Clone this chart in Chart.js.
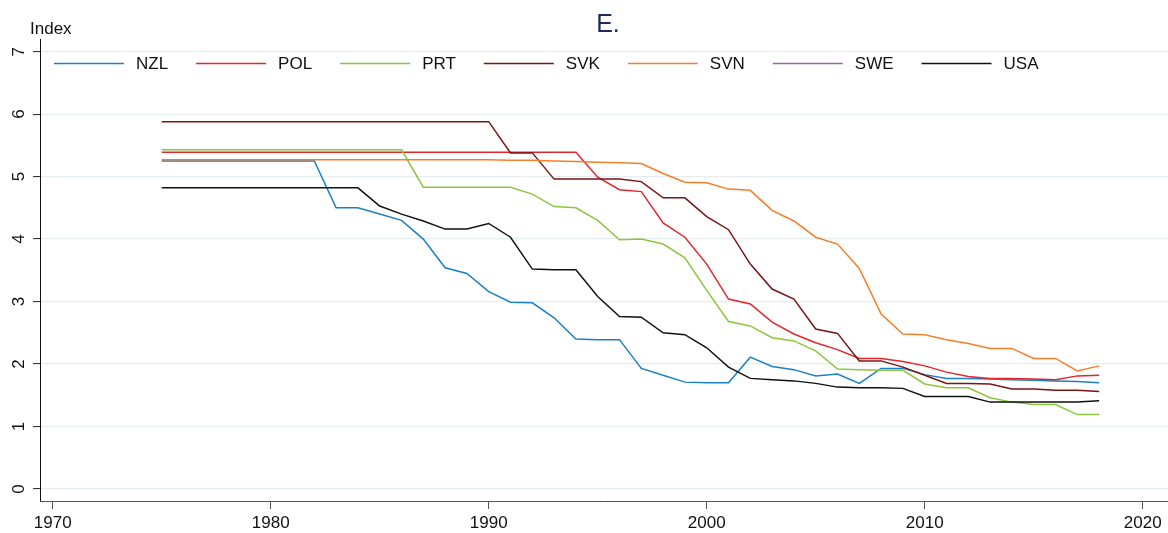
<!DOCTYPE html>
<html>
<head>
<meta charset="utf-8">
<script src="https://cdn.jsdelivr.net/npm/chart.js@4.4.1/dist/chart.umd.min.js"></script>
<style>
  html, body { margin: 0; padding: 0; background: #ffffff; }
  #wrap { width: 1168px; height: 533px; position: relative; }
</style>
</head>
<body>
<div id="wrap"><canvas id="chart" width="1168" height="533"></canvas></div>
<script>
// Years covered by every series
const years = [1975, 1976, 1977, 1978, 1979, 1980, 1981, 1982, 1983, 1984,
               1985, 1986, 1987, 1988, 1989, 1990, 1991, 1992, 1993, 1994,
               1995, 1996, 1997, 1998, 1999, 2000, 2001, 2002, 2003, 2004,
               2005, 2006, 2007, 2008, 2009, 2010, 2011, 2012, 2013, 2014,
               2015, 2016, 2017, 2018];

const countries = ['NZL', 'POL', 'PRT', 'SVK', 'SVN', 'SWE', 'USA'];

const nzl = [5.25, 5.25, 5.25, 5.25, 5.25, 5.25, 5.25, 5.25, 4.50, 4.50,
             4.40, 4.30, 4.00, 3.54, 3.45, 3.16, 2.99, 2.98, 2.74, 2.40,
             2.39, 2.39, 1.93, 1.82, 1.71, 1.70, 1.70, 2.11, 1.96, 1.91,
             1.81, 1.84, 1.69, 1.93, 1.93, 1.83, 1.77, 1.77, 1.76, 1.75,
             1.74, 1.73, 1.72, 1.70];

const pol = [5.39, 5.39, 5.39, 5.39, 5.39, 5.39, 5.39, 5.39, 5.39, 5.39,
             5.39, 5.39, 5.39, 5.39, 5.39, 5.39, 5.39, 5.39, 5.39, 5.39,
             4.99, 4.79, 4.76, 4.26, 4.03, 3.60, 3.04, 2.96, 2.67, 2.48,
             2.34, 2.23, 2.09, 2.09, 2.04, 1.97, 1.87, 1.80, 1.77, 1.77,
             1.76, 1.75, 1.81, 1.82];

const prt = [5.43, 5.43, 5.43, 5.43, 5.43, 5.43, 5.43, 5.43, 5.43, 5.43,
             5.43, 5.43, 4.83, 4.83, 4.83, 4.83, 4.83, 4.72, 4.52, 4.50,
             4.30, 3.99, 4.00, 3.92, 3.70, 3.18, 2.68, 2.61, 2.42, 2.37,
             2.21, 1.92, 1.91, 1.90, 1.90, 1.68, 1.62, 1.62, 1.46, 1.39,
             1.35, 1.35, 1.19, 1.19];

const svk = [5.88, 5.88, 5.88, 5.88, 5.88, 5.88, 5.88, 5.88, 5.88, 5.88,
             5.88, 5.88, 5.88, 5.88, 5.88, 5.88, 5.38, 5.38, 4.96, 4.96,
             4.96, 4.96, 4.92, 4.66, 4.66, 4.36, 4.15, 3.60, 3.20, 3.04,
             2.56, 2.49, 2.05, 2.05, 1.95, 1.82, 1.69, 1.69, 1.68, 1.60,
             1.60, 1.58, 1.58, 1.56];

const svn = [5.27, 5.27, 5.27, 5.27, 5.27, 5.27, 5.27, 5.27, 5.27, 5.27,
             5.27, 5.27, 5.27, 5.27, 5.27, 5.27, 5.26, 5.26, 5.25, 5.24,
             5.23, 5.22, 5.21, 5.05, 4.91, 4.90, 4.80, 4.78, 4.46, 4.29,
             4.03, 3.92, 3.53, 2.80, 2.48, 2.47, 2.39, 2.33, 2.25, 2.25,
             2.09, 2.09, 1.89, 1.97];

const swe = [];

const usa = [4.82, 4.82, 4.82, 4.82, 4.82, 4.82, 4.82, 4.82, 4.82, 4.82,
             4.53, 4.40, 4.29, 4.16, 4.16, 4.25, 4.03, 3.52, 3.51, 3.51,
             3.08, 2.76, 2.75, 2.50, 2.47, 2.26, 1.95, 1.77, 1.75, 1.73,
             1.69, 1.63, 1.62, 1.62, 1.61, 1.48, 1.48, 1.48, 1.39, 1.39,
             1.39, 1.39, 1.39, 1.41];

const xTicks = [1970, 1980, 1990, 2000, 2010, 2020];
const yTicks = [0, 1, 2, 3, 4, 5, 6, 7];

const seriesValues = [nzl, pol, prt, svk, svn, swe, usa];
const seriesColors = ['#1a80c8', '#e2262b', '#8cc63f', '#7b1416', '#f47f2a', '#a05fb5', '#111111'];

const FONT = '"Liberation Sans", Arial, Helvetica, sans-serif';

const datasets = countries.map((name, i) => ({
  label: name,
  data: seriesValues[i].map((v, k) => ({ x: years[k], y: v })),
  borderColor: seriesColors[i],
  backgroundColor: seriesColors[i],
  borderWidth: 1.5,
  pointRadius: 0,
  tension: 0,
  fill: false,
  order: countries.length - i
}));

// Panel title, y-axis caption and an in-plot legend row
const decorations = {
  id: 'decorations',
  afterDraw(chart) {
    const ctx = chart.ctx;
    const area = chart.chartArea;
    ctx.save();

    ctx.fillStyle = '#1f2d55';
    ctx.font = '25px ' + FONT;
    ctx.textAlign = 'center';
    ctx.textBaseline = 'alphabetic';
    ctx.fillText('E.', 608, 32);

    ctx.fillStyle = '#111111';
    ctx.font = '17px ' + FONT;
    ctx.textAlign = 'left';
    ctx.fillText('Index', 30, 34);

    ctx.font = '17px ' + FONT;
    ctx.textBaseline = 'middle';
    let x = area.left + 14;
    const y = 63.5;
    chart.data.datasets.forEach(ds => {
      ctx.strokeStyle = ds.borderColor;
      ctx.lineWidth = 1.5;
      ctx.beginPath();
      ctx.moveTo(x, y);
      ctx.lineTo(x + 70, y);
      ctx.stroke();
      ctx.fillStyle = '#111111';
      ctx.fillText(ds.label, x + 82, y + 1);
      x += 82 + ctx.measureText(ds.label).width + 28;
    });
    ctx.restore();
  }
};

new Chart(document.getElementById('chart'), {
  type: 'line',
  data: { datasets },
  options: {
    responsive: false,
    animation: false,
    layout: { padding: { top: 39, left: 0, right: 0, bottom: 0 } },
    plugins: {
      legend: { display: false },
      title: { display: false },
      tooltip: { enabled: false }
    },
    scales: {
      x: {
        type: 'linear',
        min: 1969.417,
        max: 2021.16,
        afterBuildTicks: s => { s.ticks = xTicks.map(v => ({ value: v })); },
        afterFit: s => { s.height = 32; },
        grid: { drawOnChartArea: false, drawTicks: true, tickLength: 8, tickColor: '#555555', tickWidth: 1 },
        border: { display: true, color: '#555555', width: 1 },
        ticks: {
          font: { family: FONT, size: 17 },
          color: '#111111',
          padding: 4,
          maxRotation: 0,
          minRotation: 0,
          callback: v => String(v)
        }
      },
      y: {
        type: 'linear',
        min: -0.193,
        max: 7.203,
        afterBuildTicks: s => { s.ticks = yTicks.map(v => ({ value: v })); },
        afterFit: s => { s.width = 40; },
        grid: { color: '#e6edf0', lineWidth: 1.2, drawTicks: true, tickLength: 7, tickColor: '#222222', tickWidth: 1 },
        border: { display: true, color: '#111111', width: 1 },
        ticks: {
          font: { family: FONT, size: 17 },
          color: '#111111',
          padding: 9,
          minRotation: 90,
          maxRotation: 90,
          crossAlign: 'center',
          callback: v => String(v)
        }
      }
    }
  },
  plugins: [decorations]
});
</script>
</body>
</html>
